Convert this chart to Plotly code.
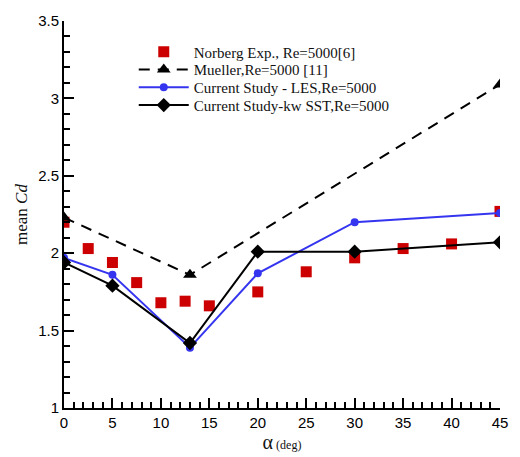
import plotly.graph_objects as go

# Data
norberg_alpha = [0, 2.5, 5, 7.5, 10, 12.5, 15, 20, 25, 30, 35, 40, 45]
norberg_cd = [2.20, 2.03, 1.94, 1.81, 1.68, 1.69, 1.66, 1.75, 1.88, 1.97, 2.03, 2.06, 2.27]

mueller_alpha = [0, 13, 45]
mueller_cd = [2.23, 1.86, 3.09]

les_alpha = [0, 5, 13, 20, 30, 45]
les_cd = [1.97, 1.86, 1.39, 1.87, 2.20, 2.26]

kw_alpha = [0, 5, 13, 20, 30, 45]
kw_cd = [1.94, 1.79, 1.42, 2.01, 2.01, 2.07]

x_ticks = [0, 5, 10, 15, 20, 25, 30, 35, 40, 45]
y_ticks = [1, 1.5, 2, 2.5, 3, 3.5]

SERIF = "Liberation Serif"
SANS = "Liberation Sans"

fig = go.Figure()
fig.add_trace(go.Scatter(
    x=norberg_alpha, y=norberg_cd, mode="markers", name="Norberg Exp., Re=5000[6]",
    marker=dict(symbol="square", size=11, color="#cc0000"), legend="legend"))
fig.add_trace(go.Scatter(
    x=mueller_alpha, y=mueller_cd, mode="lines+markers", name="Mueller,Re=5000 [11]",
    line=dict(color="black", width=2, dash="11px,8px"),
    marker=dict(symbol="triangle-up", size=12, color="black"), legend="legend2"))
fig.add_trace(go.Scatter(
    x=les_alpha, y=les_cd, mode="lines+markers", name="Current Study - LES,Re=5000",
    line=dict(color="#3535f0", width=2),
    marker=dict(symbol="circle", size=8, color="#3535f0"), legend="legend3"))
fig.add_trace(go.Scatter(
    x=kw_alpha, y=kw_cd, mode="lines+markers", name="Current Study-kw SST,Re=5000",
    line=dict(color="black", width=2),
    marker=dict(symbol="diamond", size=11, color="black"), legend="legend4"))

def leg(yv):
    return dict(x=0.16, y=yv, xanchor="left", yanchor="middle",
                font=dict(family=SERIF, size=15, color="#111"),
                bgcolor="rgba(0,0,0,0)", itemwidth=50)

fig.update_layout(
    width=520, height=457,
    margin=dict(l=63.5, r=14, t=16, b=39.3),
    paper_bgcolor="white", plot_bgcolor="white",
    showlegend=True,
    legend=leg(0.920), legend2=leg(0.874), legend3=leg(0.828), legend4=leg(0.782),
    xaxis=dict(
        range=[0, 45], tickvals=x_ticks, ticks="inside", ticklen=10, tickwidth=2,
        tickcolor="black", showline=True, linecolor="black", linewidth=2,
        showgrid=False, zeroline=False,
        tickfont=dict(family=SANS, size=15, color="black"),
        minor=dict(dtick=1, ticks="inside", ticklen=6, tickwidth=1.5, tickcolor="black", showgrid=False),
        title=dict(text="<span style='font-size:20px'>α</span><span style='font-size:12px'> (deg)</span>",
                   font=dict(family=SERIF, size=14, color="#111"), standoff=4),
    ),
    yaxis=dict(
        range=[1, 3.5], tickvals=y_ticks, ticks="inside", ticklen=10, tickwidth=2,
        tickcolor="black", showline=True, linecolor="black", linewidth=2,
        showgrid=False, zeroline=False,
        tickfont=dict(family=SANS, size=15, color="black"),
        minor=dict(dtick=0.1, ticks="inside", ticklen=6, tickwidth=1.5, tickcolor="black", showgrid=False),
        title=dict(text="mean <i>Cd</i>", font=dict(family=SERIF, size=17, color="#111"), standoff=6),
    ),
)

fig.write_html("out.html")
